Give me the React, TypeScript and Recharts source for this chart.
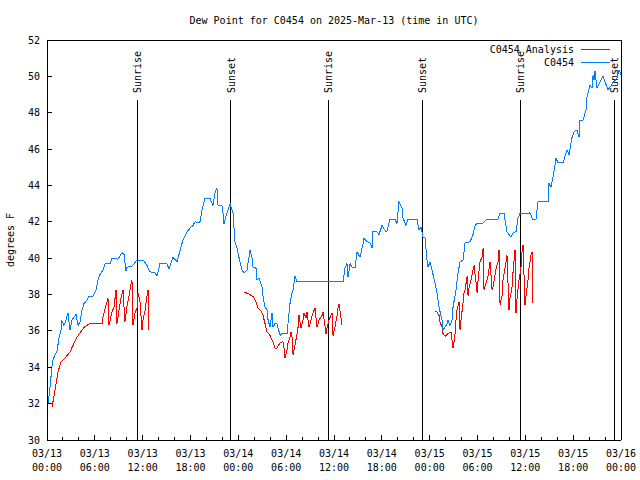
import { LineChart, Line, XAxis, YAxis, ReferenceLine, Legend } from "recharts"

const FONT = "'DejaVu Sans Mono', monospace"
const RED = "#ff0000"
const BLUE = "#0080ff"

// hours since 03/13 00:00 UTC
const OBS_HOURS = [
  0.13, 0.38, 0.63, 0.75, 1.13, 1.25, 1.51, 1.76, 1.82, 2.13, 2.38, 2.63, 2.88, 3.14, 3.64, 3.89, 4.14, 4.39, 4.64, 5.02,
  5.27, 5.77, 6.15, 6.4, 6.65, 7.02, 7.28, 7.9, 8.15, 8.91, 9.41, 9.66, 9.91, 10.04, 10.66, 11.29, 12.17, 12.54, 12.92, 13.55,
  13.8, 14.17, 15.05, 15.3, 15.81, 16.31, 16.68, 17.06, 17.56, 17.94, 18.31, 18.57, 18.94, 19.19, 19.44, 19.82, 20.45, 20.82, 21.07, 21.32,
  21.45, 21.95, 22.08, 22.2, 22.58, 22.83, 22.96, 23.33, 23.58, 23.83, 24.08, 24.46, 24.71, 25.09, 25.21, 25.46, 25.72, 25.84, 26.22, 26.34,
  26.59, 26.97, 27.1, 27.35, 27.6, 27.73, 27.98, 28.22, 28.35, 28.6, 28.85, 29.23, 29.48, 30.11, 30.23, 30.48, 30.73, 30.86, 31.11, 31.36,
  34.25, 37.13, 37.38, 37.63, 37.76, 38.01, 38.26, 38.64, 38.89, 39.26, 39.64, 39.76, 40.14, 40.52, 40.77, 40.89, 41.4, 41.65, 42.02, 42.15,
  42.52, 42.65, 43.03, 43.65, 43.9, 44.15, 44.53, 44.66, 45.03, 45.28, 46.41, 46.66, 46.91, 47.17, 47.42, 47.67, 47.79, 48.04, 48.29, 48.42,
  48.67, 48.92, 49.17, 49.55, 49.67, 49.93, 50.18, 50.3, 50.55, 50.8, 50.93, 51.3, 51.56, 51.81, 52.19, 52.44, 53.07, 53.44, 53.7, 53.95,
  54.57, 55.19, 56.57, 56.82, 57.33, 57.7, 57.95, 58.2, 58.46, 58.83, 59.08, 59.33, 60.34, 60.59, 60.96, 61.34, 61.59, 62.85, 62.97, 63.22,
  63.47, 63.85, 64.1, 64.73, 65.23, 65.48, 65.86, 66.11, 66.48, 66.74, 66.86, 67.24, 67.61, 67.74, 67.86, 68.11, 68.36, 68.49, 68.62, 68.74,
  68.99, 69.37, 69.75, 70.0, 70.37, 70.62, 71.0, 71.5, 71.75, 72.0,
]
const OBS_DEWPT = [
  32.0, 32.9, 34.1, 34.4, 34.8, 34.9, 35.6, 36.05, 36.6, 36.3, 36.6, 37.0, 36.05, 36.6, 36.9, 36.3, 36.5, 37.15, 37.5, 37.7,
  37.9, 37.9, 38.25, 38.8, 39.1, 39.35, 39.7, 39.7, 40.0, 39.95, 40.3, 40.2, 39.3, 39.5, 39.55, 39.9, 39.85, 39.6, 39.25, 39.2,
  39.0, 39.7, 39.7, 39.4, 40.05, 39.8, 40.4, 41.0, 41.45, 41.65, 41.8, 42.0, 41.95, 42.0, 42.65, 43.3, 43.3, 42.9, 43.6, 43.85,
  42.9, 42.9, 42.5, 41.9, 42.5, 42.8, 43.0, 42.5, 40.9, 40.55, 40.05, 39.35, 39.2, 39.35, 39.7, 40.45, 40.0, 39.5, 39.45, 38.8,
  38.9, 38.4, 37.9, 37.3, 37.15, 36.6, 36.2, 37.0, 36.2, 36.4, 36.4, 35.75, 35.85, 35.85, 36.4, 37.5, 38.1, 38.25, 39.0, 38.7,
  38.7, 38.7, 39.45, 39.7, 38.95, 39.7, 39.5, 39.5, 40.35, 40.05, 40.8, 41.1, 40.9, 40.85, 40.55, 41.45, 41.45, 41.3, 41.8, 41.7,
  41.45, 41.5, 42.15, 42.15, 41.9, 43.1, 42.75, 42.2, 41.8, 42.15, 42.15, 41.55, 41.7, 41.15, 41.1, 39.9, 39.5, 39.8, 39.35, 39.1,
  38.65, 38.1, 37.3, 36.6, 36.05, 36.2, 36.4, 36.6, 36.3, 36.6, 37.3, 38.25, 39.2, 39.8, 39.9, 40.85, 40.9, 41.3, 41.8, 41.9,
  41.9, 42.15, 42.15, 42.45, 42.45, 41.45, 41.3, 41.15, 41.4, 41.45, 42.2, 42.45, 42.45, 42.5, 42.1, 42.15, 43.1, 43.1, 44.1, 43.9,
  44.45, 45.5, 45.25, 45.25, 45.95, 45.7, 46.65, 46.95, 47.05, 46.65, 47.6, 47.6, 48.15, 48.9, 49.1, 49.5, 49.35, 50.05, 49.8, 50.3,
  49.35, 49.7, 50.0, 49.7, 49.25, 49.4, 49.65, 49.9, 50.35, 50.1,
]

const ANL1_HOURS = [
  0.63, 1.0, 1.38, 1.76, 2.26, 2.89, 3.26, 3.76, 4.39, 4.77, 5.39, 6.9, 7.02, 7.4, 7.65, 7.78, 8.15, 8.4, 8.66, 8.78,
  9.03, 9.28, 9.53, 9.78, 10.04, 10.29, 10.54, 10.66, 10.79, 11.04, 11.29, 11.42, 11.67, 11.92, 12.04, 12.29, 12.54, 12.67, 12.79,
]
const ANL1_DEWPT = [
  31.8, 32.75, 33.75, 34.3, 34.5, 34.85, 35.2, 35.65, 36.05, 36.25, 36.4, 36.4, 36.75, 37.4, 37.8, 36.3, 37.05, 37.3, 38.25, 36.4,
  37.15, 37.8, 38.25, 36.5, 37.4, 37.95, 38.6, 38.8, 36.3, 37.0, 37.25, 38.1, 37.6, 36.05, 36.6, 37.1, 37.9, 38.25, 36.05,
]

const ANL2_HOURS = [
  24.71, 25.21, 25.84, 26.22, 26.47, 26.84, 27.1, 27.35, 27.6, 27.97, 28.35, 28.6, 28.85, 29.23, 29.6, 29.73, 29.85, 30.11, 30.23, 30.48,
  30.61, 30.8, 30.86, 31.11, 31.36, 31.49, 31.61, 31.86, 32.11, 32.24, 32.49, 32.61, 32.87, 33.12, 33.37, 33.62, 33.87, 34.12, 34.5, 34.62,
  35.0, 35.13, 35.37, 35.75, 35.88, 36.13, 36.38, 36.5, 36.63, 37.01,
]
const ANL2_DEWPT = [
  38.15, 38.05, 37.9, 37.6, 37.25, 37.1, 36.85, 36.4, 35.95, 35.75, 35.4, 35.05, 35.05, 35.35, 35.4, 35.05, 34.5, 34.95, 35.35, 35.65,
  35.95, 35.5, 34.7, 35.2, 35.85, 36.2, 36.85, 36.15, 36.6, 37.0, 36.7, 37.05, 36.2, 36.6, 37.0, 37.25, 36.2, 36.6, 36.85, 37.05,
  35.85, 36.2, 36.6, 37.0, 35.75, 36.2, 36.85, 37.25, 37.5, 36.3,
]

const ANL3_HOURS = [
  48.67, 48.92, 49.17, 49.3, 49.55, 49.67, 49.93, 50.3, 50.68, 50.8, 50.93, 51.05, 51.18, 51.3, 51.43, 51.68, 51.81, 51.93, 52.19, 52.31,
  52.44, 52.69, 52.82, 52.94, 53.19, 53.44, 53.57, 53.82, 53.95, 54.07, 54.32, 54.57, 54.7, 54.82, 55.07, 55.32, 55.58, 55.83, 55.95, 56.33,
  56.58, 56.7, 56.83, 57.08, 57.2, 57.58, 57.7, 57.95, 58.08, 58.33, 58.46, 58.71, 58.83, 58.96, 59.21, 59.46, 59.58, 59.71, 59.96, 60.09,
  60.34, 60.46, 60.71, 60.84, 60.96,
]
const ANL3_DEWPT = [
  37.05, 37.05, 36.85, 36.5, 36.2, 35.85, 35.7, 35.85, 35.95, 35.5, 35.05, 35.35, 35.85, 36.6, 37.15, 37.6, 36.05, 36.6, 37.55, 38.1,
  38.25, 39.0, 37.9, 38.4, 38.8, 39.35, 39.6, 38.65, 38.1, 38.8, 39.8, 40.05, 40.55, 38.25, 38.65, 39.0, 39.8, 38.25, 38.4, 39.45,
  39.8, 40.45, 37.45, 37.95, 38.8, 39.8, 40.15, 37.15, 37.8, 38.4, 39.25, 40.45, 37.0, 37.8, 38.8, 39.5, 40.35, 40.7, 37.45, 37.95,
  38.8, 39.45, 40.15, 40.35, 37.55,
]

const SUN_HOURS = [11.33, 23.03, 35.3, 47.07, 59.37, 71.15]
const SUN_LABELS = ["Sunrise", "Sunset", "Sunrise", "Sunset", "Sunrise", "Sunset"]
const SUN_LINE_TOP = 48.7

const X_TICKS = Array.from({ length: 37 }, (_, i) => i * 2)
const Y_TICKS = [30, 32, 34, 36, 38, 40, 42, 44, 46, 48, 50, 52]

const toPoints = (hours: number[], vals: number[]) => hours.map((t, i) => ({ t, v: vals[i] }))

const obsData = toPoints(OBS_HOURS, OBS_DEWPT)
const anlSegments = [
  toPoints(ANL1_HOURS, ANL1_DEWPT),
  toPoints(ANL2_HOURS, ANL2_DEWPT),
  toPoints(ANL3_HOURS, ANL3_DEWPT),
]

const dayLabel = (h: number) => `03/${13 + Math.floor(h / 24)}`
const timeLabel = (h: number) => `${String(h % 24).padStart(2, "0")}:00`

function BottomTick(props: any) {
  const { x, y, payload } = props
  const v = payload.value
  const major = v % 6 === 0
  return (
    <g>
      <line x1={x} x2={x} y1={y} y2={y - (major ? 5 : 3)} stroke="#000" shapeRendering="crispEdges" />
      {major && (
        <text x={x} y={y + 13} textAnchor="middle" dominantBaseline="central" fontFamily={FONT} fontSize={10} fill="#000">
          {dayLabel(v)}
        </text>
      )}
      {major && (
        <text x={x} y={y + 27} textAnchor="middle" dominantBaseline="central" fontFamily={FONT} fontSize={10} fill="#000">
          {timeLabel(v)}
        </text>
      )}
    </g>
  )
}

function TopTick(props: any) {
  const { x, y, payload } = props
  const major = payload.value % 6 === 0
  return <line x1={x} x2={x} y1={y} y2={y + (major ? 5 : 3)} stroke="#000" shapeRendering="crispEdges" />
}

function LeftTick(props: any) {
  const { x, y, payload } = props
  return (
    <g>
      <line x1={x} x2={x + 5} y1={y} y2={y} stroke="#000" shapeRendering="crispEdges" />
      <text x={x - 7} y={y} textAnchor="end" dominantBaseline="central" fontFamily={FONT} fontSize={10} fill="#000">
        {payload.value}
      </text>
    </g>
  )
}

function RightTick(props: any) {
  const { x, y } = props
  return <line x1={x} x2={x - 5} y1={y} y2={y} stroke="#000" shapeRendering="crispEdges" />
}

function SunLabel(props: any) {
  const { viewBox, text } = props
  if (!viewBox) return null
  const x = viewBox.x + 4
  const y = viewBox.y - 7
  return (
    <text transform={`translate(${x},${y}) rotate(-90)`} textAnchor="start" fontFamily={FONT} fontSize={10} fill="#000">
      {text}
    </text>
  )
}

function LegendBox() {
  const rows = [
    { name: "C0454 Analysis", color: RED },
    { name: "C0454", color: BLUE },
  ]
  return (
    <div style={{ fontFamily: FONT, fontSize: 10, color: "#000" }}>
      {rows.map((r) => (
        <div key={r.name} style={{ display: "flex", justifyContent: "flex-end", alignItems: "center", height: 13, lineHeight: "13px" }}>
          <span>{r.name}</span>
          <span style={{ display: "inline-block", width: 29, height: 1, background: r.color, marginLeft: 7 }} />
        </div>
      ))}
    </div>
  )
}

export default function App() {
  return (
    <div style={{ position: "absolute", left: 0, top: 0, width: 640, height: 480, background: "#fff" }}>
      <div
        style={{
          position: "absolute", left: 334, top: 20, transform: "translate(-50%, -50%)",
          fontFamily: FONT, fontSize: 10, whiteSpace: "nowrap", color: "#000",
        }}
      >
        Dew Point for C0454 on 2025-Mar-13 (time in UTC)
      </div>
      <div
        style={{
          position: "absolute", left: 10, top: 240, transform: "translate(-50%, -50%) rotate(-90deg)",
          fontFamily: FONT, fontSize: 10, whiteSpace: "nowrap", color: "#000",
        }}
      >
        degrees F
      </div>
      <LineChart width={640} height={480} margin={{ top: 0, right: 0, bottom: 0, left: 0 }}>
        <XAxis
          dataKey="t" type="number" domain={[0, 72]} ticks={X_TICKS} interval={0} allowDataOverflow
          height={40} tickSize={0} tickMargin={0} axisLine={{ stroke: "#000", shapeRendering: "crispEdges" }} tickLine={false} tick={BottomTick}
        />
        <XAxis
          xAxisId="top" orientation="top" dataKey="t" type="number" domain={[0, 72]} ticks={X_TICKS} interval={0}
          height={40} tickSize={0} tickMargin={0} axisLine={{ stroke: "#000", shapeRendering: "crispEdges" }} tickLine={false} tick={TopTick}
        />
        <YAxis
          type="number" domain={[30, 52]} ticks={Y_TICKS} interval={0} allowDataOverflow
          width={47} tickSize={0} tickMargin={0} axisLine={{ stroke: "#000", shapeRendering: "crispEdges" }} tickLine={false} tick={LeftTick}
        />
        <YAxis
          yAxisId="right" orientation="right" type="number" domain={[30, 52]} ticks={Y_TICKS} interval={0}
          width={19} tickSize={0} tickMargin={0} axisLine={{ stroke: "#000", shapeRendering: "crispEdges" }} tickLine={false} tick={RightTick}
        />
        {SUN_HOURS.map((h, i) => (
          <ReferenceLine
            key={i}
            segment={[{ x: h, y: SUN_LINE_TOP }, { x: h, y: 30 }]}
            stroke="#000"
            strokeWidth={1}
            shapeRendering="crispEdges"
            label={<SunLabel text={SUN_LABELS[i]} />}
          />
        ))}
        {anlSegments.map((seg, i) => (
          <Line
            key={`anl${i}`} data={seg} dataKey="v" type="linear" stroke={RED} strokeWidth={1}
            shapeRendering="crispEdges" dot={false} isAnimationActive={false} name="C0454 Analysis"
          />
        ))}
        <Line
          data={obsData} dataKey="v" type="linear" stroke={BLUE} strokeWidth={1}
          shapeRendering="crispEdges" dot={false} isAnimationActive={false} name="C0454"
        />
        <Legend
          layout="vertical" align="center" verticalAlign="middle"
          content={<LegendBox />}
          wrapperStyle={{ top: 43, left: 450, width: 160, bottom: "auto", right: "auto" }}
        />
      </LineChart>
    </div>
  )
}
